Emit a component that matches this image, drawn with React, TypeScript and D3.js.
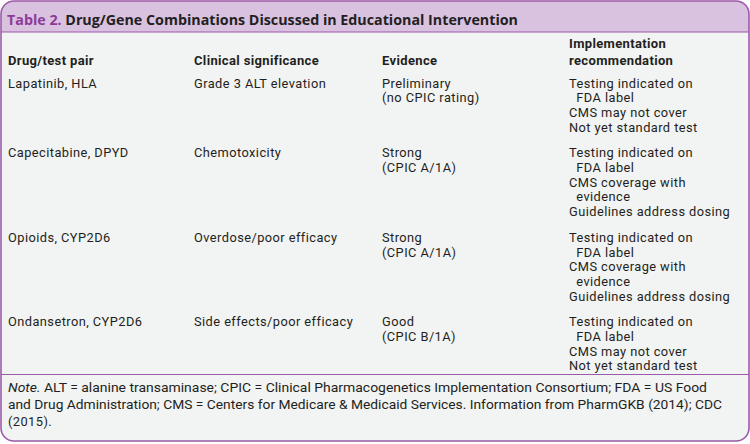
import React, { useEffect, useRef } from "react";
import * as d3 from "d3";

const titleLabel = "Table 2.";
const titleText = " Drug/Gene Combinations Discussed in Educational Intervention";
const columnHeaders: string[][] = [
  ["Drug/test pair"],
  ["Clinical significance"],
  ["Evidence"],
  ["Implementation", "recommendation"],
];
const drugPairs = ["Lapatinib, HLA", "Capecitabine, DPYD", "Opioids, CYP2D6", "Ondansetron, CYP2D6"];
const significance = ["Grade 3 ALT elevation", "Chemotoxicity", "Overdose/poor efficacy", "Side effects/poor efficacy"];
const evidence: string[][] = [
  ["Preliminary", "(no CPIC rating)"],
  ["Strong", "(CPIC A/1A)"],
  ["Strong", "(CPIC A/1A)"],
  ["Good", "(CPIC B/1A)"],
];
const recommendation: string[][] = [
  ["Testing indicated on", "  FDA label", "CMS may not cover", "Not yet standard test"],
  ["Testing indicated on", "  FDA label", "CMS coverage with", "  evidence", "Guidelines address dosing"],
  ["Testing indicated on", "  FDA label", "CMS coverage with", "  evidence", "Guidelines address dosing"],
  ["Testing indicated on", "  FDA label", "CMS may not cover", "Not yet standard test"],
];
const noteLines = [
  " ALT = alanine transaminase; CPIC = Clinical Pharmacogenetics Implementation Consortium; FDA = US Food",
  "and Drug Administration; CMS = Centers for Medicare & Medicaid Services. Information from PharmGKB (2014); CDC",
  "(2015).",
];

const W = 750;
const H = 444;
const FONT = "Roboto, 'Open Sans', sans-serif";
const TITLE_FONT = "'Open Sans', Roboto, sans-serif";
const PURPLE = "#9c5aa8";
const LAVENDER = "#d9c1e0";
const BODY = "#f2f3f3";
const TEXT = "#231f20";

export default function App() {
  const ref = useRef<SVGSVGElement | null>(null);
  useEffect(() => {
    const svg = d3.select(ref.current);
    svg.selectAll("*").remove();

    const defs = svg.append("defs");
    defs.append("clipPath").attr("id", "frameClip")
      .append("rect").attr("x", 1).attr("y", 1).attr("width", W - 2).attr("height", 440).attr("rx", 13);

    const g = svg.append("g").attr("clip-path", "url(#frameClip)");
    g.append("rect").attr("x", 0).attr("y", 0).attr("width", W).attr("height", H).attr("fill", BODY);
    g.append("rect").attr("x", 0).attr("y", 0).attr("width", W).attr("height", 32).attr("fill", LAVENDER);
    g.append("line").attr("x1", 0).attr("x2", W).attr("y1", 32).attr("y2", 32).attr("stroke", PURPLE).attr("stroke-width", 1.2);
    g.append("line").attr("x1", 0).attr("x2", W).attr("y1", 374.5).attr("y2", 374.5).attr("stroke", PURPLE).attr("stroke-width", 1.2);

    svg.append("rect").attr("x", 1).attr("y", 1).attr("width", W - 2).attr("height", 440).attr("rx", 13)
      .attr("fill", "none").attr("stroke", PURPLE).attr("stroke-width", 1.6);

    // title
    const t = svg.append("text").attr("x", 7).attr("y", 25).attr("font-family", TITLE_FONT)
      .attr("font-size", 13.6).attr("font-weight", 700).attr("fill", TEXT)
      .attr("textLength", 511).attr("lengthAdjust", "spacingAndGlyphs");
    t.append("tspan").attr("fill", "#8e3a9a").text(titleLabel);
    t.append("tspan").style("white-space", "pre").text(titleText);

    const colX = d3.scaleOrdinal<number, number>().domain([0, 1, 2, 3]).range([8, 194, 382, 569]);
    const lineH = 14.7;

    const cell = (x: number, y: number, lines: string[], size: number, weight: number, lh: number, ls: number) => {
      const tx = svg.append("text").attr("x", x).attr("y", y)
        .attr("font-family", FONT).attr("font-size", size).attr("font-weight", weight)
        .attr("letter-spacing", ls)
        .attr("fill", TEXT).style("white-space", "pre");
      lines.forEach((ln, li) => {
        tx.append("tspan").attr("x", x).attr("dy", li === 0 ? 0 : lh).text(ln);
      });
    };

    // headers (bottom aligned)
    columnHeaders.forEach((lines, ci) => {
      const lh = 16.5;
      cell(colX(ci), 64.5 - (lines.length - 1) * lh, lines, 13, 700, lh, 0.35);
    });

    let y0 = 87.5;
    drugPairs.forEach((dp, ri) => {
      const cols: string[][] = [[dp], [significance[ri]], evidence[ri], recommendation[ri]];
      const maxLines = d3.max(cols, (c) => c.length) || 1;
      cols.forEach((lines, ci) => cell(colX(ci), y0, lines, 12.8, 400, lineH, 0.45));
      y0 += maxLines * lineH + 11;
    });

    const noteLens = [699, 714, 0];
    noteLines.forEach((ln, i) => {
      const tx = svg.append("text").attr("x", 8).attr("y", 392 + i * 17)
        .attr("font-family", FONT).attr("font-size", 12.8).attr("fill", TEXT).style("white-space", "pre");
      if (noteLens[i] > 0) tx.attr("textLength", noteLens[i]).attr("lengthAdjust", "spacingAndGlyphs");
      else tx.attr("letter-spacing", 0.45);
      if (i === 0) {
        tx.append("tspan").attr("font-style", "italic").text("Note.");
        tx.append("tspan").text(ln);
      } else tx.text(ln);
    });
  }, []);

  return (
    <svg ref={ref} width={W} height={H} style={{ position: "absolute", left: 0, top: 0, display: "block", background: "#fff" }} />
  );
}
